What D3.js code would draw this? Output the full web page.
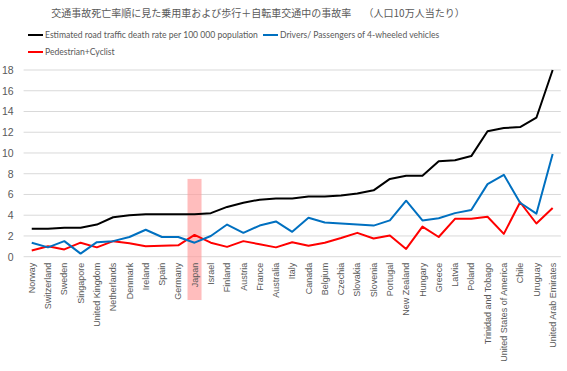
<!DOCTYPE html>
<html>
<head>
<meta charset="utf-8">
<style>
  body { margin: 0; background: #fff; }
  svg { font-family: Lato, "Liberation Sans", "Noto Sans CJK JP", sans-serif; }
  .title { font-family: "Noto Sans CJK JP", sans-serif; fill: #595959; font-size: 10px; }
  .tick text { fill: #595959; }
</style>
<script src="https://d3js.org/d3.v7.min.js"></script>
</head>
<body>
<svg id="chart" width="567" height="371"></svg>
<script>
var countries = ["Norway", "Switzerland", "Sweden", "Singapore", "United Kingdom", "Netherlands",
  "Denmark", "Ireland", "Spain", "Germany", "Japan", "Israel", "Finland", "Austria", "France",
  "Australia", "Italy", "Canada", "Belgium", "Czechia", "Slovakia", "Slovenia", "Portugal",
  "New Zealand", "Hungary", "Greece", "Latvia", "Poland", "Trinidad and Tobago",
  "United States of America", "Chile", "Uruguay", "United Arab Emirates"];

var totalRate = [2.7, 2.7, 2.8, 2.8, 3.1, 3.8, 4.0, 4.1, 4.1, 4.1, 4.1, 4.2, 4.8, 5.2, 5.5,
  5.6, 5.6, 5.8, 5.8, 5.9, 6.1, 6.4, 7.5, 7.8, 7.8, 9.2, 9.3, 9.7, 12.1, 12.4, 12.5, 13.4, 18.0];

var driverRate = [1.35, 0.9, 1.5, 0.3, 1.4, 1.5, 1.9, 2.6, 1.9, 1.9, 1.35, 2.0, 3.1, 2.3, 3.0,
  3.4, 2.4, 3.75, 3.3, 3.2, 3.1, 3.0, 3.5, 5.4, 3.5, 3.7, 4.2, 4.5, 7.0, 7.9, 5.2, 4.15, 9.9];

var pedRate = [0.6, 1.0, 0.7, 1.35, 0.9, 1.5, 1.3, 1.0, 1.05, 1.1, 2.1, 1.35, 0.95, 1.5, 1.2,
  0.9, 1.4, 1.05, 1.35, 1.8, 2.3, 1.75, 2.05, 0.75, 2.9, 1.9, 3.65, 3.65, 3.85, 2.2, 5.25, 3.2, 4.7];

var yTicks = [0, 2, 4, 6, 8, 10, 12, 14, 16, 18];
var highlight = "Japan";
var highlightTop = 7.5;

var series = [
  { name: "Estimated road traffic death rate per 100 000 population", color: "#000000", values: totalRate },
  { name: "Drivers/ Passengers of 4-wheeled vehicles", color: "#0070c0", values: driverRate },
  { name: "Pedestrian+Cyclist", color: "#ff0000", values: pedRate }
];

var svg = d3.select("#chart");

var x = d3.scaleBand()
  .domain(countries)
  .range([23.6, 560.8]);

var y = d3.scaleLinear()
  .domain([0, 18])
  .range([256.7, 70]);

// title
svg.append("text")
  .attr("class", "title")
  .attr("x", 258)
  .attr("y", 17)
  .attr("text-anchor", "middle")
  .text("交通事故死亡率順に見た乗用車および歩行＋自転車交通中の事故率　 （人口10万人当たり）");

// legend
var legendPos = [[28, 35], [263, 35], [28, 52]];
var legend = svg.selectAll(".legend")
  .data(series)
  .enter()
  .append("g")
  .attr("class", "legend")
  .attr("transform", function(d, i) { return "translate(" + legendPos[i][0] + "," + legendPos[i][1] + ")"; });

legend.append("line")
  .attr("x1", 0).attr("x2", 15)
  .attr("stroke", function(d) { return d.color; })
  .attr("stroke-width", 2);

var legendText = legend.append("text")
  .attr("x", 17)
  .attr("dy", "0.35em")
  .attr("font-size", 10)
  .attr("fill", "#595959")
  .text(function(d) { return d.name; });

// first entry has to end before the second one starts
var firstW = legendText.nodes()[0].getComputedTextLength();
var legendSize = Math.min(10.5, 10 * (legendPos[1][0] - legendPos[0][0] - 17 - 5) / firstW);
legendText.attr("font-size", legendSize);

// gridlines
svg.append("g")
  .selectAll("line")
  .data(yTicks)
  .enter()
  .append("line")
  .attr("x1", x.range()[0])
  .attr("x2", x.range()[1])
  .attr("y1", function(d) { return y(d); })
  .attr("y2", function(d) { return y(d); })
  .attr("stroke", "#d9d9d9")
  .attr("stroke-width", 1);

// japan highlight
svg.append("rect")
  .attr("x", x(highlight) + x.bandwidth() / 2 - 7)
  .attr("y", y(highlightTop))
  .attr("width", 14)
  .attr("height", 300 - y(highlightTop))
  .attr("fill", "#ff9999")
  .attr("fill-opacity", 0.65);

// y axis
var yAxis = svg.append("g")
  .attr("transform", "translate(" + x.range()[0] + ",0)")
  .call(d3.axisLeft(y).tickValues(yTicks).tickSize(0).tickPadding(10));
yAxis.select(".domain").remove();
yAxis.selectAll("text").attr("font-size", 10.5);

// x axis
var xAxis = svg.append("g")
  .attr("transform", "translate(0," + y(0) + ")")
  .call(d3.axisBottom(x).tickSize(0));
xAxis.select(".domain").remove();
xAxis.selectAll("text")
  .attr("font-size", 9)
  .attr("transform", "rotate(-90)")
  .attr("text-anchor", "end")
  .attr("x", -6)
  .attr("y", 0)
  .attr("dy", "0.35em");

// lines
var line = d3.line()
  .x(function(d, i) { return x(countries[i]) + x.bandwidth() / 2; })
  .y(function(d) { return y(d); });

svg.selectAll(".series")
  .data(series.slice().reverse())
  .enter()
  .append("path")
  .attr("class", "series")
  .attr("fill", "none")
  .attr("stroke", function(d) { return d.color; })
  .attr("stroke-width", 2)
  .attr("stroke-linejoin", "round")
  .attr("d", function(d) { return line(d.values); });
</script>
</body>
</html>
